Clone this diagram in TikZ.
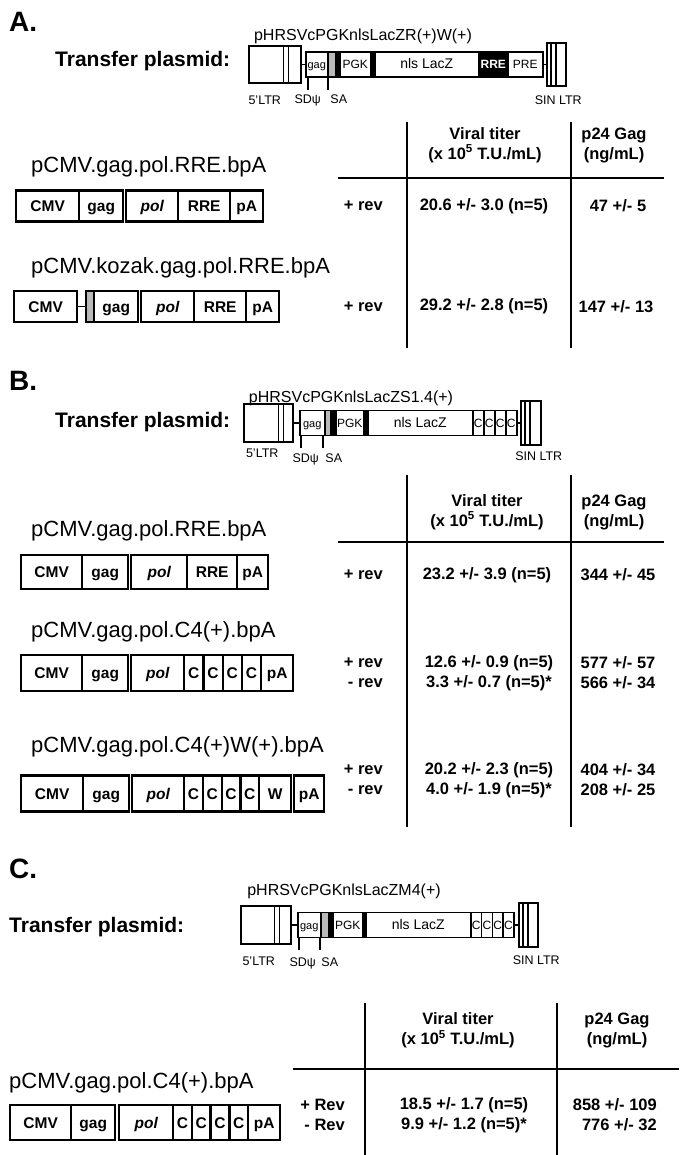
\documentclass[tikz,border=0pt]{standalone}
\usepackage{fontspec}
\setmainfont{Liberation Sans}
\usetikzlibrary{matrix,positioning}

\tikzset{
conmat/.style={
  matrix of nodes,
  nodes in empty cells,
  anchor=west,
  inner sep=0pt,
  outer sep=0pt,
  column sep=-2.4pt,
  nodes={draw, anchor=center, line width=2.4pt, minimum height=34pt, inner sep=0pt,
    text height=11.5pt, text depth=0.5pt,
    font=\bfseries\fontsize{15.5}{17}\selectfont}
  },
plmat/.style={
  matrix of nodes,
  nodes in empty cells,
  anchor=west,
  inner sep=0pt,
  outer sep=0pt,
  column sep=-1.5pt,
  nodes={draw, anchor=center, line width=1.5pt, minimum height=25pt, inner sep=0pt,
    text height=9pt, text depth=0.4pt,
    font=\fontsize{12}{13}\selectfont}
  },
cw/.style={minimum width=#1pt},
ital/.style={font=\bfseries\itshape\fontsize{15.5}{17}\selectfont},
small/.style={font=\fontsize{11}{12}\selectfont},
lacz/.style={font=\fontsize{14}{15}\selectfont},
bar/.style={fill=black},
sd/.style={fill=gray!55},
ltr/.style={draw, line width=1.5pt, inner sep=0pt, anchor=west},
pline/.style={line width=1.5pt},
tline/.style={line width=2.6pt},
sec/.style={font=\bfseries\fontsize{28}{30}\selectfont, anchor=base west, inner sep=0pt},
tp/.style={font=\bfseries\fontsize{21}{24}\selectfont, anchor=base west, inner sep=0pt},
ptitle/.style={font=\fontsize{16}{18}\selectfont, anchor=base, inner sep=0pt},
ctitle/.style={font=\fontsize{22}{24}\selectfont, anchor=base west, inner sep=0pt},
lbl/.style={font=\fontsize{12.5}{14}\selectfont, inner sep=0pt},
tab/.style={font=\bfseries\fontsize{16.5}{20}\selectfont, inner sep=0pt, align=center}
}

\begin{document}
\begin{tikzpicture}[x=1pt,y=-1pt]

\path[fill=white,use as bounding box] (0,0) rectangle (685,1155);

% ---------------- A ----------------
\node[sec] (secA) at (9,32) {A.};
\node[ptitle] (ttlA) at (363,40.5) {pHRSVcPGKnlsLacZR(+)W(+)};
\node[tp] (tpA) at (55,67) {Transfer plasmid:};

\node[ltr, minimum width=52pt, minimum height=37pt] (ltrA) at (248,64.5) {};
\draw[pline] ([xshift=-18pt]ltrA.north east) -- ([xshift=-18pt]ltrA.south east)
  ([xshift=-13pt]ltrA.north east) -- ([xshift=-13pt]ltrA.south east);

\matrix[plmat] (plA) at (305,64.5)
{
  |[cw=22,small]| gag & |[cw=8,sd]| & |[cw=4,bar]| & |[cw=31]| PGK & |[cw=4,bar]| &
  |[cw=104,lacz]| nls LacZ & |[cw=29,bar,text=white]| \textbf{RRE} & |[cw=35]| PRE \\};

\node[ltr, minimum width=19pt, minimum height=43pt] (sinA) at (546,64.5) {};
\draw[pline] ([xshift=5pt]sinA.north west) -- ([xshift=5pt]sinA.south west)
  ([xshift=10pt]sinA.north west) -- ([xshift=10pt]sinA.south west);

\draw[pline] (ltrA.east) -- (plA-1-1.west);
\draw[pline] (plA-1-8.east) -- (sinA.west);
\draw[pline] ([xshift=2pt]plA-1-1.south west) -- ++(0,13) coordinate (sdA);
\draw[pline] (plA-1-2.south west) -- ++(0,13) coordinate (saA);

\node[lbl, below=12pt of ltrA, xshift=-10pt] (l5A) {5'LTR};
\node[lbl, below=5pt of sdA] (lsdA) {SDψ};
\node[lbl, below=5pt of saA, xshift=11pt] (lsaA) {SA};
\node[lbl, below=9pt of sinA, xshift=2pt] (lsinA) {SIN LTR};

\node[tab] (vtA) at (485,145) {Viral titer\\(x 10\textsuperscript{5} T.U./mL)};
\node[tab] (pgA) at (614,145) {p24 Gag\\(ng/mL)};
\draw[tline] (407,122) -- (407,348) (571,122) -- (571,348) (338,178) -- (664,178);

\node[ctitle] (nA1) at (31,173) {pCMV.gag.pol.RRE.bpA};
\matrix[conmat, nodes={minimum height=31pt}] (cA1) at (15,206)
{
  |[cw=63]| CMV & |[cw=44]| gag &[3pt] |[cw=52,ital]| pol & |[cw=52]| RRE & |[cw=33]| pA \\};
\node[tab, anchor=east] (rvA1) at (383,206) {+ rev};
\node[tab] (tiA1) at (484,206) {20.6 +/- 3.0 (n=5)};
\node[tab] (pgA1) at (618,206) {47 +/- 5};

\node[ctitle] (nA2) at (31,274) {pCMV.kozak.gag.pol.RRE.bpA};
\matrix[conmat, nodes={minimum height=31pt}] (cA2) at (13,306.5)
{
  |[cw=63]| CMV &[9pt] |[cw=8,sd]| & |[cw=44]| gag &[3pt] |[cw=53,ital]| pol &
  |[cw=52]| RRE & |[cw=33]| pA \\};
\draw[pline] (cA2-1-1.east) -- (cA2-1-2.west);
\node[tab, anchor=east] (rvA2) at (383,306.5) {+ rev};
\node[tab] (tiA2) at (484,306.5) {29.2 +/- 2.8 (n=5)};
\node[tab] (pgA2) at (616,306.5) {147 +/- 13};

% ---------------- B ----------------
\node[sec] (secB) at (9,390) {B.};
\node[ptitle] (ttlB) at (351,402) {pHRSVcPGKnlsLacZS1.4(+)};
\node[tp] (tpB) at (55,427) {Transfer plasmid:};

\node[ltr, minimum width=49pt, minimum height=38pt] (ltrB) at (243,423) {};
\draw[pline] ([xshift=-15pt]ltrB.north east) -- ([xshift=-15pt]ltrB.south east)
  ([xshift=-10pt]ltrB.north east) -- ([xshift=-10pt]ltrB.south east);

\matrix[plmat] (plB) at (299,423)
{
  |[cw=25,small]| gag & |[cw=6,sd]| & |[cw=5,bar]| & |[cw=28]| PGK & |[cw=4,bar]| &
  |[cw=105,lacz]| nls LacZ & |[cw=11]| C & |[cw=11]| C & |[cw=11]| C & |[cw=11]| C \\};

\node[ltr, minimum width=20pt, minimum height=44pt] (sinB) at (520,423) {};
\draw[pline] ([xshift=5pt]sinB.north west) -- ([xshift=5pt]sinB.south west)
  ([xshift=10pt]sinB.north west) -- ([xshift=10pt]sinB.south west);

\draw[pline] (ltrB.east) -- (plB-1-1.west);
\draw[pline] (plB-1-10.east) -- (sinB.west);
\draw[pline] ([xshift=1pt]plB-1-1.south west) -- ++(0,12) coordinate (sdB);
\draw[pline] ([xshift=-2pt]plB-1-2.south west) -- ++(0,12) coordinate (saB);

\node[lbl, below=6pt of ltrB, xshift=-6pt] (l5B) {5'LTR};
\node[lbl, below=6pt of sdB, xshift=5pt] (lsdB) {SDψ};
\node[lbl, below=6pt of saB, xshift=11pt] (lsaB) {SA};
\node[lbl, below=6pt of sinB, xshift=8pt] (lsinB) {SIN LTR};

\node[tab] (vtB) at (487,512) {Viral titer\\(x 10\textsuperscript{5} T.U./mL)};
\node[tab] (pgB) at (614,512) {p24 Gag\\(ng/mL)};
\draw[tline] (407,475) -- (407,827) (571,475) -- (571,827) (338,542) -- (664,542);

\node[ctitle] (nB1) at (31,536) {pCMV.gag.pol.RRE.bpA};
\matrix[conmat] (cB1) at (20,572)
{
  |[cw=61]| CMV & |[cw=46]| gag &[3pt] |[cw=56,ital]| pol & |[cw=50]| RRE & |[cw=31]| pA \\};
\node[tab, anchor=east] (rvB1) at (383,575) {+ rev};
\node[tab] (tiB1) at (487,575) {23.2 +/- 3.9 (n=5)};
\node[tab] (pgB1) at (618,575) {344 +/- 45};

\node[ctitle] (nB2) at (31,637) {pCMV.gag.pol.C4(+).bpA};
\matrix[conmat, nodes={minimum height=36pt}] (cB2) at (20,673)
{
  |[cw=61]| CMV & |[cw=46]| gag &[3pt] |[cw=53,ital]| pol & |[cw=19.25]| C &
  |[cw=19.25]| C & |[cw=19.25]| C & |[cw=19.25]| C & |[cw=32]| pA \\};
\node[tab, anchor=east, align=right] (rvB2) at (383,673) {+ rev\\- rev};
\node[tab] (tiB2) at (489,673) {12.6 +/- 0.9 (n=5)\\3.3 +/- 0.7 (n=5)*};
\node[tab] (pgB2) at (618,673) {577 +/- 57\\566 +/- 34};

\node[ctitle] (nB3) at (31,752) {pCMV.gag.pol.C4(+)W(+).bpA};
\matrix[conmat, nodes={minimum height=36pt}] (cB3) at (20,793.5)
{
  |[cw=62]| CMV & |[cw=46]| gag &[3pt] |[cw=52,ital]| pol & |[cw=18.75]| C &
  |[cw=18.75]| C & |[cw=18.75]| C & |[cw=18.75]| C & |[cw=32]| W &[3pt] |[cw=30]| pA \\};
\node[tab, anchor=east, align=right] (rvB3) at (383,780) {+ rev\\- rev};
\node[tab] (tiB3) at (489,780) {20.2 +/- 2.3 (n=5)\\4.0 +/- 1.9 (n=5)*};
\node[tab] (pgB3) at (618,780) {404 +/- 34\\208 +/- 25};

% ---------------- C ----------------
\node[sec] (secC) at (9,878) {C.};
\node[ptitle] (ttlC) at (344,895) {pHRSVcPGKnlsLacZM4(+)};
\node[tp] (tpC) at (9,932) {Transfer plasmid:};

\node[ltr, minimum width=50pt, minimum height=38pt] (ltrC) at (240,925) {};
\draw[pline] ([xshift=-17pt]ltrC.north east) -- ([xshift=-17pt]ltrC.south east)
  ([xshift=-12pt]ltrC.north east) -- ([xshift=-12pt]ltrC.south east);

\matrix[plmat] (plC) at (297,925)
{
  |[cw=23,small]| gag & |[cw=8,sd]| & |[cw=4,bar]| & |[cw=30]| PGK & |[cw=3,bar]| &
  |[cw=105,lacz]| nls LacZ & |[cw=10.75]| C & |[cw=10.75]| C & |[cw=10.75]| C & |[cw=10.75]| C \\};

\node[ltr, minimum width=19pt, minimum height=44pt] (sinC) at (518,925) {};
\draw[pline] ([xshift=5pt]sinC.north west) -- ([xshift=5pt]sinC.south west)
  ([xshift=10pt]sinC.north west) -- ([xshift=10pt]sinC.south west);

\draw[pline] (ltrC.east) -- (plC-1-1.west);
\draw[pline] (plC-1-10.east) -- (sinC.west);
\draw[pline] ([xshift=1pt]plC-1-1.south west) -- ++(0,12) coordinate (sdC);
\draw[pline] ([xshift=-1pt]plC-1-2.south west) -- ++(0,12) coordinate (saC);

\node[lbl, below=12pt of ltrC, xshift=-7pt] (l5C) {5'LTR};
\node[lbl, below=8pt of sdC, xshift=4pt] (lsdC) {SDψ};
\node[lbl, below=8pt of saC, xshift=10pt] (lsaC) {SA};
\node[lbl, below=8pt of sinC, xshift=8pt] (lsinC) {SIN LTR};

\node[tab] (vtC) at (458,1030) {Viral titer\\(x 10\textsuperscript{5} T.U./mL)};
\node[tab] (pgC) at (617,1030) {p24 Gag\\(ng/mL)};
\draw[tline] (365,1003) -- (365,1155) (557,1003) -- (557,1155) (293,1069) -- (679,1069);

\node[ctitle] (nC1) at (9,1088) {pCMV.gag.pol.C4(+).bpA};
\matrix[conmat, nodes={minimum height=35pt}] (cC1) at (9,1122.5)
{
  |[cw=61]| CMV & |[cw=44]| gag &[4pt] |[cw=54,ital]| pol & |[cw=18.75]| C &
  |[cw=18.75]| C & |[cw=18.75]| C & |[cw=18.75]| C & |[cw=32]| pA \\};
\node[tab, anchor=east, align=right] (rvC1) at (345,1115) {+ Rev\\- Rev};
\node[tab] (tiC1) at (464,1115) {18.5 +/- 1.7 (n=5)\\9.9 +/- 1.2 (n=5)*};
\node[tab, anchor=east, align=right] (pgC1) at (657,1115) {858 +/- 109\\776 +/- 32};

\end{tikzpicture}
\end{document}
